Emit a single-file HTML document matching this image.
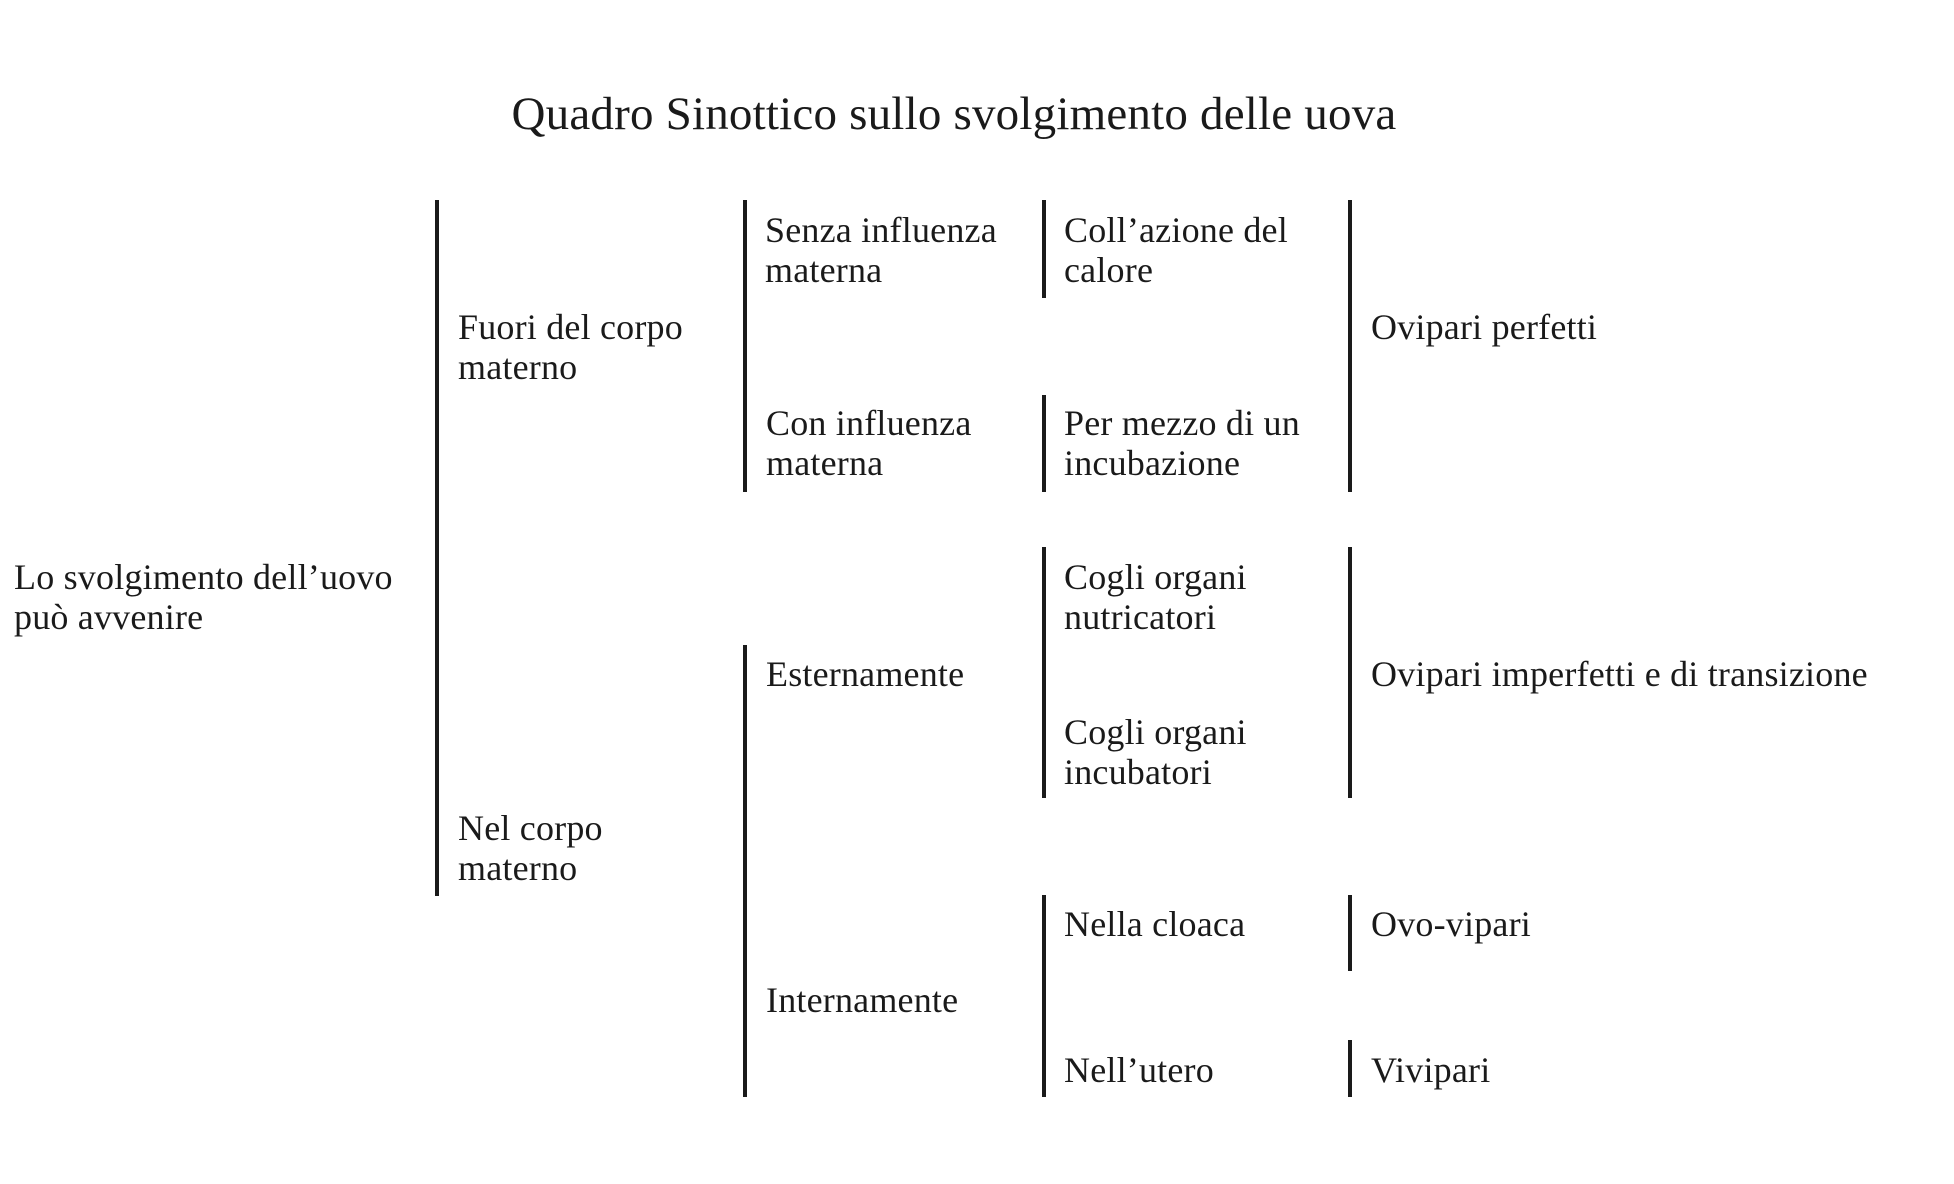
<!DOCTYPE html>
<html><head><meta charset="utf-8"><style>
body{margin:0;width:1954px;height:1184px;background:#fff;position:relative;overflow:hidden;font-family:"Liberation Serif",serif;color:#1a1a1a}
.b{position:absolute;width:4px;background:#1a1a1a}
.t{position:absolute;font-size:36px;line-height:40px;white-space:nowrap;letter-spacing:0.2px}
</style></head><body>
<div class="t" style="left:0;width:1908px;text-align:center;top:90px;font-size:47px;line-height:48px;letter-spacing:0.2px">Quadro Sinottico sullo svolgimento delle uova</div>

<div class="b" style="left:435px;top:200px;height:696px"></div>
<div class="b" style="left:743px;top:200px;height:292px"></div>
<div class="b" style="left:743px;top:645px;height:452px"></div>
<div class="b" style="left:1042px;top:200px;height:98px"></div>
<div class="b" style="left:1042px;top:395px;height:97px"></div>
<div class="b" style="left:1042px;top:547px;height:251px"></div>
<div class="b" style="left:1042px;top:895px;height:202px"></div>
<div class="b" style="left:1348px;top:200px;height:292px"></div>
<div class="b" style="left:1348px;top:547px;height:251px"></div>
<div class="b" style="left:1348px;top:895px;height:76px"></div>
<div class="b" style="left:1348px;top:1040px;height:57px"></div>

<div class="t" style="left:14px;top:557px">Lo svolgimento dell’uovo<br>può avvenire</div>
<div class="t" style="left:458px;top:307px">Fuori del corpo<br>materno</div>
<div class="t" style="left:458px;top:808px">Nel corpo<br>materno</div>
<div class="t" style="left:765px;top:210px">Senza influenza<br>materna</div>
<div class="t" style="left:766px;top:403px">Con influenza<br>materna</div>
<div class="t" style="left:766px;top:654px">Esternamente</div>
<div class="t" style="left:766px;top:980px">Internamente</div>
<div class="t" style="left:1064px;top:210px">Coll’azione del<br>calore</div>
<div class="t" style="left:1064px;top:403px">Per mezzo di un<br>incubazione</div>
<div class="t" style="left:1064px;top:557px">Cogli organi<br>nutricatori</div>
<div class="t" style="left:1064px;top:712px">Cogli organi<br>incubatori</div>
<div class="t" style="left:1064px;top:904px">Nella cloaca</div>
<div class="t" style="left:1064px;top:1050px">Nell’utero</div>
<div class="t" style="left:1371px;top:307px">Ovipari perfetti</div>
<div class="t" style="left:1371px;top:654px">Ovipari imperfetti e di transizione</div>
<div class="t" style="left:1371px;top:904px">Ovo-vipari</div>
<div class="t" style="left:1371px;top:1050px">Vivipari</div>
</body></html>
